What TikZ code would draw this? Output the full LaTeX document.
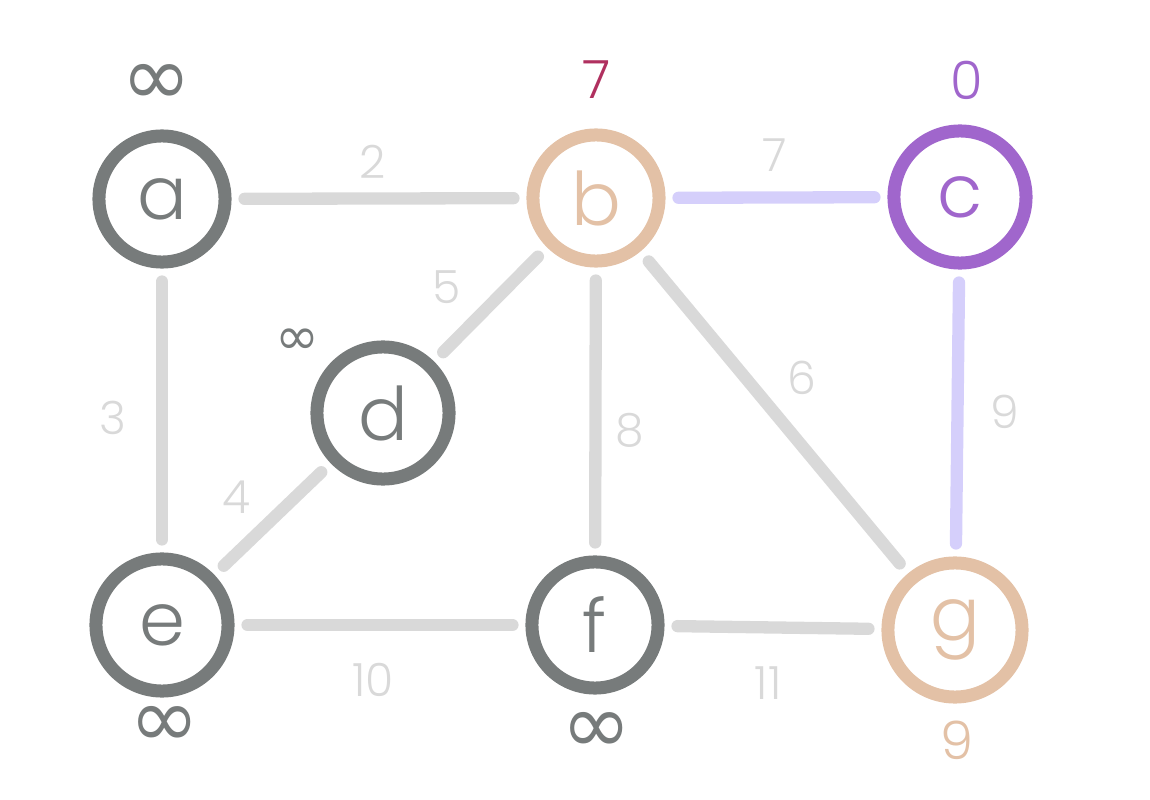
\documentclass[tikz,border=0pt]{standalone}
\usepackage{fontspec}
\setmainfont{Poppins Light}
\newfontfamily\symfont{DejaVu Sans}
\usepackage{xcolor}
\usetikzlibrary{positioning}

\definecolor{nodegray}{HTML}{777B7B}
\definecolor{edgegray}{HTML}{D9D9D9}
\definecolor{peach}{HTML}{E3C1A6}
\definecolor{violet}{HTML}{A066CC}
\definecolor{lavender}{HTML}{D5CFFB}
\definecolor{berry}{HTML}{B0305F}

\newcommand{\inftymark}{{\symfont ∞}}

\begin{document}
\begin{tikzpicture}[x=0.01cm, y=-0.01cm,
  vertex/.style={circle, draw, line width=3.7pt, minimum size=1.26cm, inner sep=0pt,
    font=\fontsize{21}{24}\selectfont},
  link/.style={line width=3.5pt, line cap=round, shorten <=0.13cm, shorten >=0.13cm},
  weight/.style={text=edgegray, font=\fontsize{13}{15}\selectfont},
  dist/.style={font=\fontsize{15}{17}\selectfont},
  unreached/.style={text=nodegray, inner sep=0pt, font=\fontsize{24}{26}\selectfont}]
\useasboundingbox (0,0) rectangle (1150,800);
% Vertices
\node[vertex, draw=nodegray, text=nodegray] (a) at (162,199) {a};
\node[vertex, draw=peach, text=peach] (b) at (596,198) {b};
\node[vertex, draw=violet, text=violet, minimum size=1.32cm] (c) at (960,197) {c};
\node[vertex, draw=nodegray, text=nodegray, minimum size=1.32cm] (d) at (383,413) {d};
\node[vertex, draw=nodegray, text=nodegray, minimum size=1.32cm] (e) at (162,625) {e};
\node[vertex, draw=nodegray, text=nodegray] (f) at (595,625) {f};
\node[vertex, draw=peach, text=peach, minimum size=1.34cm] (g) at (955,630) {g};
% Edges
\draw[link, edgegray] (a) -- (b);
\draw[link, lavender] (b) -- (c);
\draw[link, edgegray] (a) -- (e);
\draw[link, edgegray] (b) -- (d);
\draw[link, edgegray] (d) -- (e);
\draw[link, edgegray] (b) -- (f);
\draw[link, edgegray] (b) -- (g);
\draw[link, lavender] (c) -- (g);
\draw[link, edgegray] (e) -- (f);
\draw[link, edgegray] (f) -- (g);
% Edge weights
\node[weight] (w-ab) at (373,162) {2};
\node[weight] (w-bc) at (775,155) {7};
\node[weight] (w-bd) at (447,287) {5};
\node[weight] (w-ae) at (113,418) {3};
\node[weight] (w-bf) at (630,430) {8};
\node[weight] (w-bg) at (802,378) {6};
\node[weight] (w-cg) at (1005,412) {9};
\node[weight] (w-de) at (237,497) {4};
\node[weight] (w-ef) at (373,680) {10};
\node[weight] (w-fg) at (768,683) {11};
% Distances
\node[unreached] (d-a) at (157,85) {\inftymark};
\node[dist, text=berry] (d-b) at (597,80) {7};
\node[dist, text=violet] (d-c) at (967,80) {0};
\node[unreached, font=\fontsize{15}{17}\selectfont] (d-d) at (297,342) {\inftymark};
\node[unreached] (d-e) at (165,727) {\inftymark};
\node[unreached] (d-f) at (597,733) {\inftymark};
\node[dist, text=peach] (d-g) at (957,740) {9};
\end{tikzpicture}
\end{document}
